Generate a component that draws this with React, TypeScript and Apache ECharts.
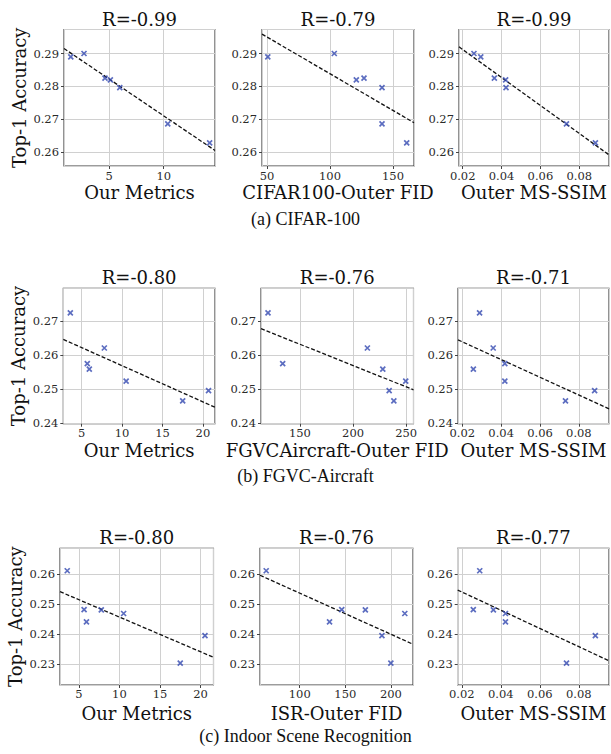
import React, { useEffect, useRef } from "react";
import * as echarts from "echarts";

// ---------- data ----------
const cifarAcc = [0.29, 0.289, 0.2825, 0.282, 0.2796, 0.2686, 0.2628];
const cifarOurs = [2.71, 1.5, 4.63, 5.12, 5.98, 10.37, 14.2];
const cifarFid = [103.4, 50.6, 127.0, 120.9, 141.3, 141.3, 160.9];
const cifarSsim = [0.0258, 0.0293, 0.0363, 0.0421, 0.0423, 0.0734, 0.0883];

const fgvcAcc = [0.2724, 0.2621, 0.2575, 0.2559, 0.2524, 0.2496, 0.2466];
const fgvcOurs = [3.59, 7.8, 5.69, 5.94, 10.5, 20.7, 17.5];
const fgvcFid = [120.0, 213.5, 133.8, 228.0, 249.6, 234.0, 238.4];
const fgvcSsim = [0.0289, 0.0359, 0.0419, 0.0257, 0.0419, 0.0881, 0.0731];

const isrAcc = [0.2611, 0.2481, 0.248, 0.2468, 0.244, 0.2394, 0.2302];
const isrOurs = [3.57, 5.65, 7.77, 10.52, 5.94, 20.55, 17.5];
const isrFid = [63.2, 146.1, 172.0, 215.3, 132.7, 190.2, 200.0];
const isrSsim = [0.0292, 0.0259, 0.0362, 0.0424, 0.0424, 0.0885, 0.0737];

const rowAcc = [cifarAcc, fgvcAcc, isrAcc];
const rowX = [
  [cifarOurs, cifarFid, cifarSsim],
  [fgvcOurs, fgvcFid, fgvcSsim],
  [isrOurs, isrFid, isrSsim],
];

const rTitles = [
  ["R=-0.99", "R=-0.79", "R=-0.99"],
  ["R=-0.80", "R=-0.76", "R=-0.71"],
  ["R=-0.80", "R=-0.76", "R=-0.77"],
];
const xLabels = [
  ["Our Metrics", "CIFAR100-Outer FID", "Outer MS-SSIM"],
  ["Our Metrics", "FGVCAircraft-Outer FID", "Outer MS-SSIM"],
  ["Our Metrics", "ISR-Outer FID", "Outer MS-SSIM"],
];
const captions = ["(a) CIFAR-100", "(b) FGVC-Aircraft", "(c) Indoor Scene Recognition"];
const yLabel = "Top-1 Accuracy";

// axis limits and tick steps
const yLimits = [
  [0.2558, 0.2973],
  [0.2399, 0.2796],
  [0.2229, 0.2686],
];
const xLimits = [
  [[0.88, 14.69], [46.0, 166.7], [0.0181, 0.0953]],
  [[2.72, 21.5], [113.4, 256.9], [0.0178, 0.0955]],
  [[2.68, 21.6], [56.4, 224.3], [0.0179, 0.0955]],
];
const xTickSteps = [5, 50, 0.02];
const yTickStep = 0.01;

// ---------- layout ----------
const rowTops = [29.5, 288.3, 548.3];
const rowBottoms = [166, 423.7, 685];
const colLefts = [
  [64, 262, 459],
  [63.3, 261, 458],
  [60, 260, 457.7],
];
const colRights = [
  [215, 414, 609],
  [215, 413.5, 609],
  [213.5, 413, 609],
];
const titleYs = [19, 277, 537];
const xNameGaps = [20, 20, 21.5];
const xLabelMargins = [4, 4, 3];
const captionYs = [219, 476, 736];

const SERIF = "'DejaVu Serif', serif";
const TIMES = "'Liberation Serif', 'Times New Roman', serif";
const BLUE = "#3349b0";

function fit(xs: number[], ys: number[]) {
  const n = xs.length;
  const mx = xs.reduce((a, b) => a + b, 0) / n;
  const my = ys.reduce((a, b) => a + b, 0) / n;
  let sxy = 0;
  let sxx = 0;
  for (let i = 0; i < n; i++) {
    sxy += (xs[i] - mx) * (ys[i] - my);
    sxx += (xs[i] - mx) * (xs[i] - mx);
  }
  const b = sxy / sxx;
  return { a: my - b * mx, b };
}

function buildOption() {
  const grids: any[] = [];
  const xAxes: any[] = [];
  const yAxes: any[] = [];
  const series: any[] = [];
  const graphics: any[] = [];

  for (let r = 0; r < 3; r++) {
    for (let c = 0; c < 3; c++) {
      const idx = r * 3 + c;
      const left = colLefts[r][c];
      const right = colRights[r][c];
      const top = rowTops[r];
      const bottom = rowBottoms[r];
      grids.push({
        left,
        top,
        width: right - left,
        height: bottom - top,
        show: true,
        borderColor: "#3a3a3a",
        borderWidth: 1.1,
        backgroundColor: "#fff",
        containLabel: false,
        outerBoundsMode: "none",
      });
      const [xmin, xmax] = xLimits[r][c];
      const [ymin, ymax] = yLimits[r];
      const step = xTickSteps[c];
      xAxes.push({
        gridIndex: idx,
        type: "value",
        min: xmin,
        max: xmax,
        minInterval: step,
        maxInterval: step,
        name: xLabels[r][c],
        nameLocation: "middle",
        nameGap: xNameGaps[r],
        nameTextStyle: { fontFamily: SERIF, fontSize: 18, lineHeight: 13, color: "#111" },
        axisLine: { show: false },
        axisTick: { show: true, length: 3, lineStyle: { color: "#444" } },
        axisLabel: {
          showMinLabel: false,
          showMaxLabel: false,
          fontFamily: SERIF,
          fontSize: 11.5,
          lineHeight: 11,
          color: "#2a2a2a",
          margin: xLabelMargins[r],
        },
        splitLine: { show: true, lineStyle: { color: "#d0d0d0", width: 1 } },
      });
      yAxes.push({
        gridIndex: idx,
        type: "value",
        min: ymin,
        max: ymax,
        minInterval: yTickStep,
        maxInterval: yTickStep,
        name: c === 0 ? yLabel : "",
        nameLocation: "middle",
        nameGap: 36,
        nameTextStyle: { fontFamily: SERIF, fontSize: 18, color: "#111" },
        axisLine: { show: false },
        axisTick: { show: true, length: 3, lineStyle: { color: "#444" } },
        axisLabel: {
          showMinLabel: false,
          showMaxLabel: false,
          fontFamily: SERIF,
          fontSize: 11.5,
          color: "#2a2a2a",
          margin: 5,
        },
        splitLine: { show: true, lineStyle: { color: "#d0d0d0", width: 1 } },
      });

      const xs = rowX[r][c];
      const ys = rowAcc[r];
      const { a, b } = fit(xs, ys);
      series.push({
        type: "line",
        xAxisIndex: idx,
        yAxisIndex: idx,
        data: [
          [xmin, a + b * xmin],
          [xmax, a + b * xmax],
        ],
        symbol: "none",
        silent: true,
        z: 2,
        lineStyle: { color: "#111", width: 1.3, type: [4, 2] },
      });
      series.push({
        type: "scatter",
        xAxisIndex: idx,
        yAxisIndex: idx,
        data: xs.map((x, i) => [x, ys[i]]),
        symbol: "path://M0,0L10,10M10,0L0,10",
        symbolSize: 5,
        z: 3,
        itemStyle: { color: BLUE, borderColor: BLUE, borderWidth: 1.7 },
      });

      graphics.push({
        type: "text",
        x: (left + right) / 2,
        y: titleYs[r],
        style: {
          text: rTitles[r][c],
          align: "center",
          verticalAlign: "middle",
          fontFamily: SERIF,
          fontSize: 18,
          fill: "#111",
        },
      });
    }
    graphics.push({
      type: "text",
      x: 305.5,
      y: captionYs[r],
      style: {
        text: captions[r],
        align: "center",
        verticalAlign: "middle",
        fontFamily: TIMES,
        fontSize: 18,
        fill: "#111",
      },
    });
  }

  return {
    animation: false,
    backgroundColor: "#fff",
    grid: grids,
    xAxis: xAxes,
    yAxis: yAxes,
    series,
    graphic: graphics,
  };
}

export default function App() {
  const ref = useRef<HTMLDivElement>(null);
  useEffect(() => {
    if (!ref.current) return;
    const chart = echarts.init(ref.current, undefined, { renderer: "svg" });
    chart.setOption(buildOption() as any);
    return () => chart.dispose();
  }, []);
  return (
    <div
      ref={ref}
      style={{ position: "absolute", left: 0, top: 0, width: 611, height: 754, background: "#fff" }}
    />
  );
}
